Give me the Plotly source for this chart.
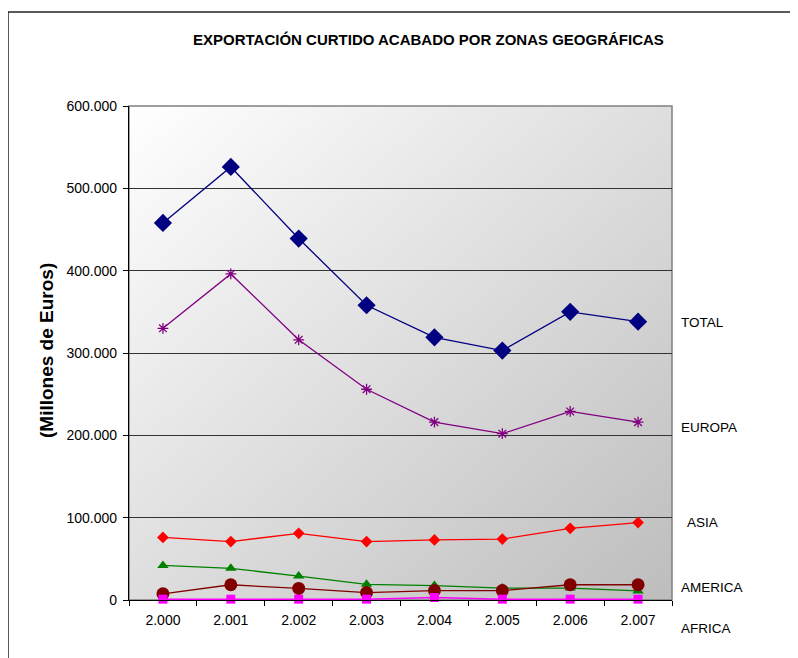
import base64
import plotly.graph_objects as go

# ---------------- data ----------------
years = ["2.000", "2.001", "2.002", "2.003", "2.004", "2.005", "2.006", "2.007"]
total = [458000, 526000, 439000, 358000, 319000, 303000, 350000, 338000]
europa = [330000, 396000, 316000, 256000, 216000, 202000, 229000, 216000]
asia = [76000, 71000, 81000, 71000, 73000, 74000, 87000, 94000]
america = [42000, 38500, 29000, 19000, 17500, 14500, 14500, 11000]
otros = [7500, 18500, 14000, 9000, 11500, 11500, 18500, 18500]
africa = [1000, 1000, 1000, 1000, 3000, 1000, 1000, 1000]
y_ticks = [0, 100000, 200000, 300000, 400000, 500000, 600000]

title_text = "EXPORTACIÓN CURTIDO ACABADO POR ZONAS GEOGRÁFICAS"
y_title = "(Millones de Euros)"

FONT = "Liberation Sans, Arial, sans-serif"

# ---------------- layout geometry ----------------
OFF = 8  # page body margin
W, H = 798 - OFF, 658 - OFF
L, T = 129 - OFF, 106 - OFF
R = W - (672 - OFF)
B = H - (600 - OFF)
PW, PH = W - L - R, H - T - B


def px(xp):
    return (xp - OFF - L) / PW


def py(yp):
    return (H - B - (yp - OFF)) / PH


fig = go.Figure()

series = [
    ("TOTAL", total, "#000080", "diamond", 14, 1.3),
    ("EUROPA", europa, "#800080", "asterisk-open", 9, 1.3),
    ("ASIA", asia, "#ff0000", "diamond", 9, 1.3),
    ("AMERICA", america, "#008000", "triangle-up", 10, 1.3),
    ("OTROS", otros, "#800000", "circle", 13, 1.3),
    ("AFRICA", africa, "#ff00ff", "square", 9, 1.5),
]
for name, vals, col, sym, size, lw in series:
    marker = dict(symbol=sym, size=size, color=col)
    if sym == "asterisk-open":
        marker["line"] = dict(color=col, width=1.3)
    else:
        marker["line"] = dict(color=col, width=0)
    fig.add_trace(go.Scatter(
        x=years, y=vals, mode="lines+markers", name=name,
        line=dict(color=col, width=lw), marker=marker,
        showlegend=False, cliponaxis=False,
    ))

# gradient background as SVG image
svg = (
    '<svg xmlns="http://www.w3.org/2000/svg" width="543" height="494" '
    'viewBox="0 0 543 494" preserveAspectRatio="none">'
    '<defs><linearGradient id="g" x1="0" y1="0" x2="1" y2="1">'
    '<stop offset="0" stop-color="#ffffff"/>'
    '<stop offset="1" stop-color="#bdbdbd"/>'
    '</linearGradient></defs>'
    '<rect x="0" y="0" width="543" height="494" fill="url(#g)"/></svg>'
)
src = "data:image/svg+xml;base64," + base64.b64encode(svg.encode()).decode()

fig.add_layout_image(dict(
    source=src, xref="paper", yref="paper", x=0, y=1, sizex=1, sizey=1,
    xanchor="left", yanchor="top", sizing="stretch", layer="below",
))

shapes = [
    dict(type="rect", xref="paper", yref="paper", x0=0, y0=0, x1=1, y1=1,
         line=dict(color="#808080", width=1.5), layer="below"),
    dict(type="line", xref="paper", yref="paper", x0=px(8), y0=py(12),
         x1=px(820), y1=py(12), line=dict(color="#222222", width=1.5)),
    dict(type="line", xref="paper", yref="paper", x0=px(8), y0=py(12),
         x1=px(8), y1=py(680), line=dict(color="#222222", width=1.5)),
]

annotations = [
    dict(text="<b>" + title_text + "</b>", xref="paper", yref="paper",
         x=px(428.5), y=py(40), xanchor="center", yanchor="middle",
         showarrow=False, font=dict(family=FONT, size=15, color="#000")),
    dict(text="<b>" + y_title + "</b>", xref="paper", yref="paper",
         x=px(46), y=py(351), xanchor="center", yanchor="middle",
         textangle=-90, showarrow=False,
         font=dict(family=FONT, size=19, color="#000")),
]
labels = [("TOTAL", 679, 322), ("EUROPA", 679, 427), ("ASIA", 685, 522),
          ("AMERICA", 679, 587), ("AFRICA", 679, 628)]
for txt, lx, ly in labels:
    annotations.append(dict(
        text=txt, xref="paper", yref="paper", x=px(lx), y=py(ly),
        xanchor="left", yanchor="middle", showarrow=False,
        font=dict(family=FONT, size=13.5, color="#000")))

fig.update_layout(
    width=W, height=H,
    margin=dict(l=L, r=R, t=T, b=B, pad=0),
    paper_bgcolor="#ffffff",
    plot_bgcolor="rgba(0,0,0,0)",
    separators=",.",
    font=dict(family=FONT, size=14, color="#000"),
    shapes=shapes,
    annotations=annotations,
    xaxis=dict(
        type="category", categoryorder="array", categoryarray=years,
        range=[-0.5, len(years) - 0.5],
        showgrid=False, showline=True, linecolor="#000", linewidth=1.3,
        ticks="outside", ticklen=5, tickcolor="#000", tickson="boundaries",
        ticklabelstandoff=7,
        tickfont=dict(family=FONT, size=14, color="#000"),
        zeroline=False, fixedrange=True,
    ),
    yaxis=dict(
        range=[0, 600000], tickvals=y_ticks, tickformat=",d",
        showgrid=True, gridcolor="#333333", gridwidth=1,
        showline=True, linecolor="#000", linewidth=1.3,
        ticks="outside", ticklen=5, tickcolor="#000",
        ticklabelstandoff=3,
        tickfont=dict(family=FONT, size=14, color="#000"),
        zeroline=False, fixedrange=True,
    ),
)

fig.write_html("out.html")
